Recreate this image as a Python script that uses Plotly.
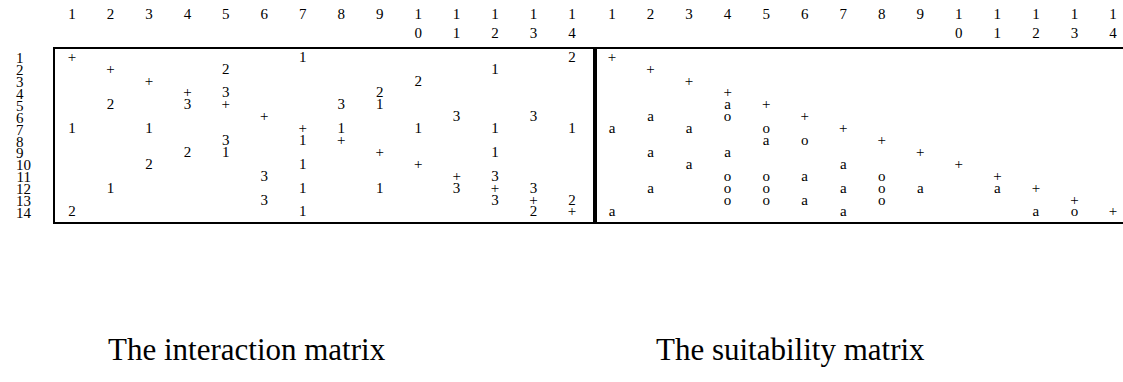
import plotly.graph_objects as go

n = 14
col_labels = ["1", "2", "3", "4", "5", "6", "7", "8", "9", "1<br>0", "1<br>1", "1<br>2", "1<br>3", "1<br>4"]
row_labels = ["1", "2", "3", "4", "5", "6", "7", "8", "9", "10", "11", "12", "13", "14"]

# interaction matrix: (row, col, mark)
inter_rows = [1, 1, 1, 2, 2, 2, 3, 3, 4, 4, 4, 5, 5, 5, 5, 5, 6, 6, 6,
              7, 7, 7, 7, 7, 7, 7, 8, 8, 8, 9, 9, 9, 9, 10, 10, 10,
              11, 11, 11, 12, 12, 12, 12, 12, 12, 13, 13, 13, 13, 14, 14, 14, 14]
inter_cols = [1, 7, 14, 2, 5, 12, 3, 10, 4, 5, 9, 2, 4, 5, 8, 9, 6, 11, 13,
              1, 3, 7, 8, 10, 12, 14, 5, 7, 8, 4, 5, 9, 12, 3, 7, 10,
              6, 11, 12, 2, 7, 9, 11, 12, 13, 6, 12, 13, 14, 1, 7, 13, 14]
inter_vals = ["+", "1", "2", "+", "2", "1", "+", "2", "+", "3", "2", "2", "3", "+", "3", "1", "+", "3", "3",
              "1", "1", "+", "1", "1", "1", "1", "3", "1", "+", "2", "1", "+", "1", "2", "1", "+",
              "3", "+", "3", "1", "1", "1", "3", "+", "3", "3", "3", "+", "2", "2", "1", "2", "+"]

# suitability matrix
suit_rows = [1, 2, 3, 4, 5, 5, 6, 6, 6, 7, 7, 7, 7, 8, 8, 8, 9, 9, 9, 10, 10, 10,
             11, 11, 11, 11, 11, 12, 12, 12, 12, 12, 12, 12, 12,
             13, 13, 13, 13, 13, 14, 14, 14, 14, 14]
suit_cols = [1, 2, 3, 4, 4, 5, 2, 4, 6, 1, 3, 5, 7, 5, 6, 8, 2, 4, 9, 3, 7, 10,
             4, 5, 6, 8, 11, 2, 4, 5, 7, 8, 9, 11, 12,
             4, 5, 6, 8, 13, 1, 7, 12, 13, 14]
suit_vals = ["+", "+", "+", "+", "a", "+", "a", "o", "+", "a", "a", "o", "+", "a", "o", "+", "a", "a", "+", "a", "a", "+",
             "o", "o", "a", "o", "+", "a", "o", "o", "a", "o", "a", "a", "+",
             "o", "o", "a", "o", "+", "a", "a", "a", "o", "+"]

serif = "Liberation Serif, Times New Roman, serif"
cell_font = dict(family=serif, size=15, color="black")

fig = go.Figure()
fig.add_trace(go.Scatter(x=inter_cols, y=inter_rows, text=inter_vals, mode="text",
                         textfont=cell_font, cliponaxis=False, hoverinfo="skip",
                         xaxis="x", yaxis="y"))
fig.add_trace(go.Scatter(x=suit_cols, y=suit_rows, text=suit_vals, mode="text",
                         textfont=cell_font, cliponaxis=False, hoverinfo="skip",
                         xaxis="x2", yaxis="y2"))

W, H = 1123, 382
ydom = [(H - 222) / H, (H - 49) / H]
yrange = [14.78, 0.244]

common_x = dict(side="top", tickmode="array", tickvals=list(range(1, n + 1)),
                showgrid=False, zeroline=False, showline=True, mirror=True,
                linecolor="black", linewidth=2, ticks="",
                tickfont=dict(family=serif, size=15, color="black"),
                ticklabelstandoff=3)
top_text = [t if "<br>" in t else t + "<br>\u00a0" for t in col_labels]

fig.update_layout(
    width=W, height=H,
    margin=dict(l=0, r=0, t=0, b=0),
    paper_bgcolor="white", plot_bgcolor="white",
    showlegend=False,
    xaxis=dict(domain=[55 / W, 595 / W], range=[0.558, 14.598], ticktext=top_text,
               anchor="y", **common_x),
    xaxis2=dict(domain=[595 / W, 1.0], range=[0.559, 14.26], ticktext=top_text,
                anchor="y2", **common_x),
    yaxis=dict(domain=ydom, range=yrange, tickmode="array", tickvals=list(range(1, n + 1)),
               ticktext=[t if len(t) == 2 else t + "\u2007" for t in row_labels],
               showgrid=False, zeroline=False, showline=True, mirror=True,
               linecolor="black", linewidth=2, ticks="", ticklabelstandoff=19,
               tickfont=dict(family=serif, size=15, color="black"), anchor="x"),
    yaxis2=dict(domain=ydom, range=yrange, showticklabels=False,
                showgrid=False, zeroline=False, showline=True, mirror=False,
                linecolor="black", linewidth=2, ticks="", anchor="x2"),
    annotations=[
        dict(text="The interaction matrix", x=247 / W, y=(H - 349) / H, xref="paper", yref="paper",
             xanchor="center", yanchor="middle", showarrow=False,
             font=dict(family=serif, size=31, color="black")),
        dict(text="The suitability matrix", x=790 / W, y=(H - 349) / H, xref="paper", yref="paper",
             xanchor="center", yanchor="middle", showarrow=False,
             font=dict(family=serif, size=31, color="black")),
    ],
)

fig.write_html("out.html", config={"displayModeBar": False},
               post_script="document.body.style.margin='0';")
